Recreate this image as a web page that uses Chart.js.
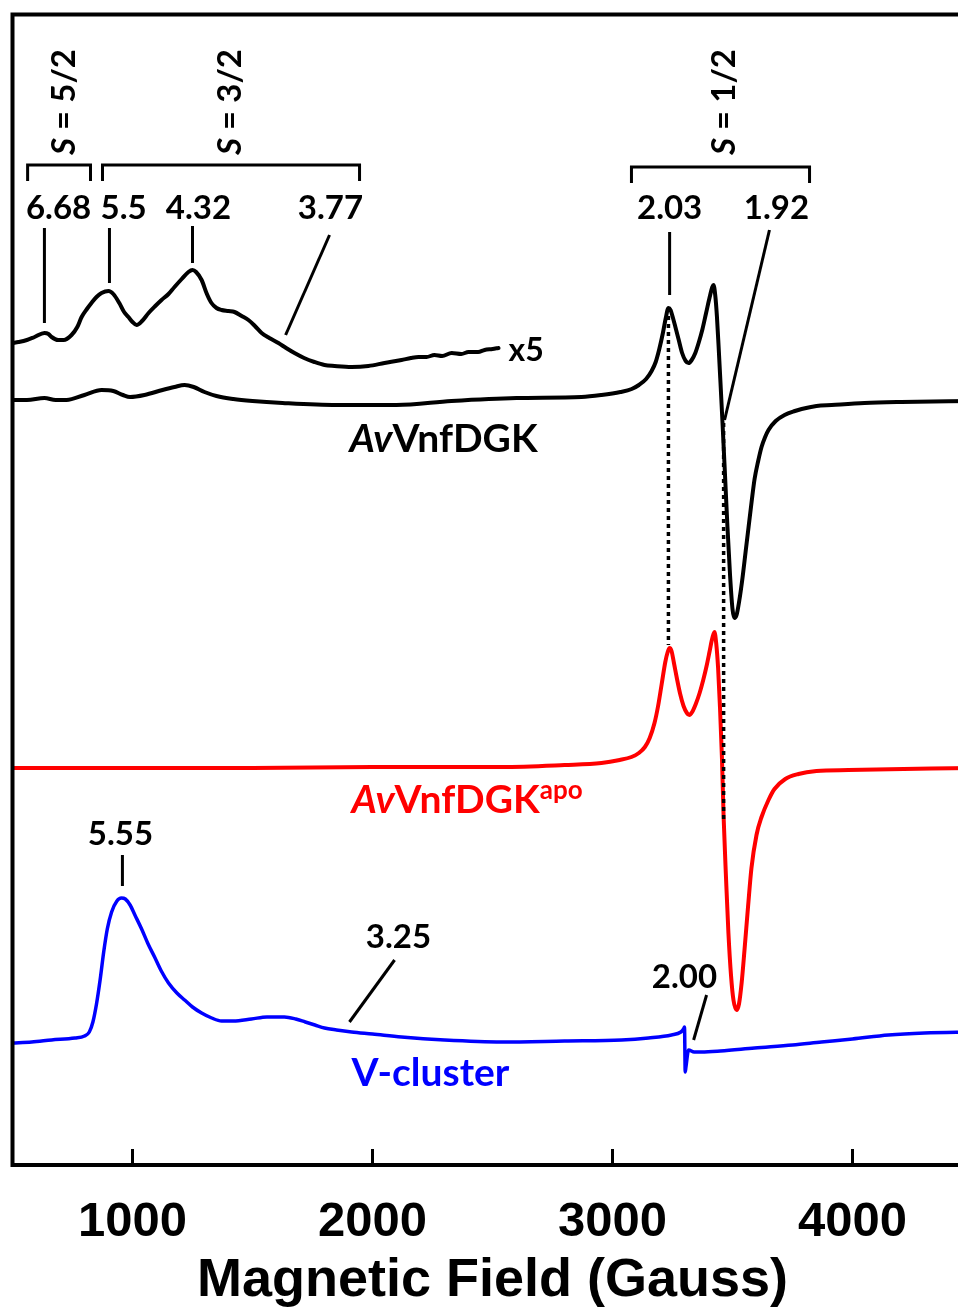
<!DOCTYPE html>
<html>
<head>
<meta charset="utf-8">
<script src="https://cdn.jsdelivr.net/npm/chart.js@4.4.1/dist/chart.umd.min.js"></script>
<style>
  html, body { margin: 0; padding: 0; background: #fff; overflow: hidden; }
  #wrap { width: 958px; height: 1315px; overflow: hidden; }
</style>
</head>
<body>
<div id="wrap"><canvas id="epr" width="976" height="1315"></canvas></div>
<script>
// field axis, Gauss
const fieldMin = 500;
const fieldMax = 4500;
const fieldTicks = [1000, 2000, 3000, 4000];

// AvVnfDGK
const vnfField  = [500, 560, 633, 680, 725, 800, 871, 920, 960, 990, 1050, 1125, 1175, 1217, 1255, 1300, 1350, 1420, 1500, 1625,
                   1850, 2100, 2329, 2600, 2871, 2954, 3033, 3080, 3110, 3140, 3163, 3180, 3195, 3210, 3222, 3233, 3242, 3252, 3262, 3275,
                   3290, 3305, 3317, 3330, 3345, 3360, 3375, 3390, 3405, 3416, 3421, 3428, 3435, 3442, 3450, 3458, 3468, 3479, 3490, 3500,
                   3508, 3517, 3528, 3540, 3555, 3567, 3580, 3592, 3607, 3621, 3636, 3650, 3680, 3717, 3760, 3788, 3850, 3913, 4050, 4204,
                   4500];
const vnfSignal = [1, 1, 3, 1, 1, 6, 11, 10, 6, 4, 6, 11, 14, 16, 14, 9, 5, 2, 0, -2,
                   -4, -4, 0, 3, 4, 6, 9, 12, 16, 22, 30, 39, 52, 68, 83, 93, 91, 83, 74, 62,
                   48, 40, 38, 41, 48, 59, 72, 88, 104, 114, 116, 106, 85, 55, 18, -20, -70, -126, -175, -208,
                   -217, -214, -200, -180, -150, -126, -100, -78, -60, -46, -36, -29, -20, -14, -10, -8, -5, -4, -2, -1,
                   0];

// AvVnfDGK low field part, x5
const vnfX5Field  = [500, 525, 560, 592, 633, 650, 663, 690, 713, 746, 770, 788, 810, 829, 850, 871, 900, 920, 945, 965,
                     983, 1000, 1017, 1040, 1067, 1095, 1121, 1150, 1175, 1205, 1233, 1250, 1265, 1288, 1310, 1329, 1350, 1371, 1400, 1425,
                     1455, 1483, 1510, 1538, 1570, 1608, 1640, 1675, 1715, 1758, 1800, 1842, 1913, 1983, 2050, 2121, 2160, 2192, 2225, 2258,
                     2290, 2330, 2370, 2400, 2440, 2467, 2500, 2525];
const vnfX5Signal = [-1, 0, 2, 5, 9, 8, 5, 2, 2, 7, 15, 25, 33, 39, 45, 49, 51, 48, 39, 30,
                     25, 20, 17, 21, 29, 36, 42, 48, 55, 63, 70, 72, 70, 62, 48, 39, 34, 32, 31, 30,
                     26, 22, 16, 9, 4, -1, -6, -11, -16, -20, -23, -24, -25, -24, -21, -18, -16, -15, -15, -13,
                     -14, -11, -12, -10, -10, -8, -7, -6];

// AvVnfDGK apo
const apoField  = [500, 1500, 2000, 2538, 2800, 2954, 3030, 3079, 3110, 3135, 3155, 3175, 3190, 3205, 3220, 3230, 3238, 3246, 3256, 3268,
                   3282, 3296, 3310, 3320, 3332, 3347, 3363, 3378, 3392, 3404, 3414, 3421, 3425, 3432, 3440, 3448, 3456, 3463, 3473, 3483,
                   3494, 3504, 3517, 3527, 3538, 3550, 3565, 3579, 3600, 3621, 3650, 3675, 3720, 3775, 3850, 3983, 4500];
const apoSignal = [0, 0, 1, 1, 3, 5, 8, 11, 15, 21, 30, 45, 62, 84, 106, 116, 120, 117, 105, 90,
                   74, 62, 55, 53, 56, 64, 75, 88, 102, 116, 128, 134, 136, 125, 100, 60, 10, -49, -110, -165,
                   -208, -232, -242, -236, -215, -182, -138, -100, -67, -49, -32, -21, -11, -6, -3, -2, 0];

// V-cluster
const vcField  = [500, 580, 663, 760, 800, 820, 835, 850, 865, 880, 895, 913, 935, 954, 970, 990, 1010, 1038, 1065, 1092,
                  1120, 1150, 1185, 1217, 1250, 1288, 1330, 1371, 1420, 1496, 1560, 1633, 1680, 1720, 1760, 1800, 1850, 1913, 2000, 2121,
                  2300, 2538, 2800, 3038, 3150, 3246, 3285, 3296, 3300, 3303, 3306, 3317, 3340, 3371, 3450, 3592, 3750, 3871, 4000, 4150,
                  4300, 4500];
const vcSignal = [-1, 0, 2, 4, 6, 10, 20, 38, 62, 90, 113, 130, 141, 144, 143, 137, 127, 113, 98, 85,
                  71, 59, 49, 42, 35, 29, 24, 21, 21, 23, 25, 25, 23, 20, 17, 14, 12, 10, 8, 5,
                  2, 0, 1, 2, 4, 7, 10, 13, 15, -30, -25, -8, -10, -10, -9, -6, -3, 0, 3, 7,
                  9, 10];

// baselines used to stack the spectra
const offsets = { vnf: 762, vnfX5: 821, apo: 395, vc: 121 };

// g-value labels and their leader lines (field, intensity)
const gLabels = [
  { text: '6.68', x: 692,  y: 955 },
  { text: '5.5',  x: 963,  y: 955 },
  { text: '4.32', x: 1275, y: 955 },
  { text: '3.77', x: 1825, y: 955 },
  { text: '2.03', x: 3238, y: 955 },
  { text: '1.92', x: 3683, y: 955 },
  { text: '5.55', x: 950,  y: 329 },
  { text: '3.25', x: 2108, y: 226 },
  { text: '2.00', x: 3300, y: 186 }
];
const leaders = [
  [633, 935, 633, 840],
  [904, 935, 904, 880],
  [1250, 937, 1250, 900],
  [1821, 928, 1638, 828],
  [3238, 931, 3238, 868],
  [3654, 933, 3467, 743],
  [958, 308, 958, 277],
  [2092, 203, 1904, 141],
  [3392, 168, 3338, 123]
];
const guides = [[3233, 855, 518], [3463, 740, 343]];
const brackets = [
  { from: 563,  to: 825,  y: 998, text: '5/2', mid: 717 },
  { from: 875,  to: 1946, y: 998, text: '3/2', mid: 1408 },
  { from: 3079, to: 3821, y: 996, text: '1/2', mid: 3467 }
];

const F = 'Lato, "Open Sans", sans-serif';

function pts(field, signal, offset) {
  return field.map((f, i) => ({ x: f, y: signal[i] + offset }));
}

function runsWidth(ctx, runs) {
  let w = 0;
  runs.forEach(r => { ctx.font = r.font; w += ctx.measureText(r.t).width; });
  return w;
}

function drawRuns(ctx, runs, x, y) {
  let cx = x;
  runs.forEach(r => {
    ctx.font = r.font;
    ctx.fillText(r.t, cx, y + (r.dy || 0));
    cx += ctx.measureText(r.t).width;
  });
}

const annotations = {
  id: 'annotations',
  afterDatasetsDraw(chart) {
    const { ctx, chartArea: a, scales: { x, y } } = chart;
    const px = v => x.getPixelForValue(v);
    const py = v => y.getPixelForValue(v);
    const seg = (x0, y0, x1, y1) => {
      ctx.beginPath(); ctx.moveTo(x0, y0); ctx.lineTo(x1, y1); ctx.stroke();
    };
    ctx.save();
    ctx.strokeStyle = '#000';
    ctx.fillStyle = '#000';

    // dotted guides linking the S = 1/2 features
    ctx.lineWidth = 3.5;
    ctx.setLineDash([4, 4]);
    guides.forEach(g => seg(px(g[0]), py(g[1]), px(g[0]), py(g[2])));
    ctx.setLineDash([]);

    // leader lines
    ctx.lineWidth = 3;
    leaders.forEach(l => seg(px(l[0]), py(l[1]), px(l[2]), py(l[3])));

    // spin brackets with rotated labels
    brackets.forEach(b => {
      const yb = py(b.y);
      ctx.beginPath();
      ctx.moveTo(px(b.from), yb + 16);
      ctx.lineTo(px(b.from), yb);
      ctx.lineTo(px(b.to), yb);
      ctx.lineTo(px(b.to), yb + 16);
      ctx.stroke();
      const runs = [
        { t: 'S', font: `italic bold 33px ${F}` },
        { t: ' = ' + b.text, font: `bold 33px ${F}` }
      ];
      ctx.save();
      ctx.translate(px(b.mid), py(1061));
      ctx.rotate(-Math.PI / 2);
      ctx.textBaseline = 'middle';
      drawRuns(ctx, runs, -runsWidth(ctx, runs) / 2, 0);
      ctx.restore();
    });

    // g-value numbers
    ctx.textAlign = 'center';
    ctx.textBaseline = 'middle';
    ctx.font = `bold 33px ${F}`;
    gLabels.forEach(l => ctx.fillText(l.text, px(l.x), py(l.y)));

    // spectrum names
    ctx.textAlign = 'left';
    ctx.font = `bold 32px ${F}`;
    ctx.fillText('x5', px(2567), py(812));
    drawRuns(ctx, [
      { t: 'Av', font: `italic bold 39px ${F}` },
      { t: 'VnfDGK', font: `bold 39px ${F}` }
    ], px(1904), py(724));
    ctx.fillStyle = '#ff0000';
    drawRuns(ctx, [
      { t: 'Av', font: `italic bold 39px ${F}` },
      { t: 'VnfDGK', font: `bold 39px ${F}` },
      { t: 'apo', font: `bold 26px ${F}`, dy: -9 }
    ], px(1913), py(363));
    ctx.fillStyle = '#0000ff';
    ctx.font = `bold 39px ${F}`;
    ctx.fillText('V-cluster', px(1913), py(90));

    // frame and inward tick marks
    ctx.strokeStyle = '#000';
    ctx.lineWidth = 4;
    ctx.strokeRect(a.left, a.top, a.right - a.left, a.bottom - a.top);
    ctx.lineWidth = 3;
    x.ticks.forEach(t => seg(px(t.value), a.bottom, px(t.value), a.bottom - 16));
    ctx.restore();
  }
};

const common = {
  pointRadius: 0,
  fill: false,
  cubicInterpolationMode: 'monotone',
  borderJoinStyle: 'round',
  borderCapStyle: 'round'
};

new Chart(document.getElementById('epr'), {
  type: 'line',
  data: {
    datasets: [
      { ...common, label: 'AvVnfDGK', data: pts(vnfField, vnfSignal, offsets.vnf), borderColor: '#000', borderWidth: 4 },
      { ...common, label: 'AvVnfDGK x5', data: pts(vnfX5Field, vnfX5Signal, offsets.vnfX5), borderColor: '#000', borderWidth: 4 },
      { ...common, label: 'AvVnfDGKapo', data: pts(apoField, apoSignal, offsets.apo), borderColor: '#ff0000', borderWidth: 4 },
      { ...common, label: 'V-cluster', data: pts(vcField, vcSignal, offsets.vc), borderColor: '#0000ff', borderWidth: 3.5 }
    ]
  },
  options: {
    responsive: false,
    animation: false,
    layout: { padding: { left: 12.5, top: 14.5, right: 3.5, bottom: 0 } },
    plugins: { legend: { display: false }, tooltip: { enabled: false } },
    scales: {
      x: {
        type: 'linear',
        min: fieldMin,
        max: fieldMax,
        afterBuildTicks: s => { s.ticks = fieldTicks.map(v => ({ value: v })); },
        afterFit: s => { s.height = 150; },
        grid: { display: false, drawTicks: false },
        border: { display: false },
        ticks: {
          color: '#000',
          padding: 28,
          maxRotation: 0,
          autoSkip: false,
          callback: v => String(v),
          font: { family: '"Liberation Sans", Arial, sans-serif', size: 49, weight: 'bold' }
        },
        title: {
          display: true,
          text: 'Magnetic Field (Gauss)',
          color: '#000',
          padding: { top: 0, bottom: 1 },
          font: { family: '"Liberation Sans", Arial, sans-serif', size: 54, weight: 'bold' }
        }
      },
      y: { display: false, min: -2, max: 1148.5 }
    }
  },
  plugins: [annotations]
});
</script>
</body>
</html>
